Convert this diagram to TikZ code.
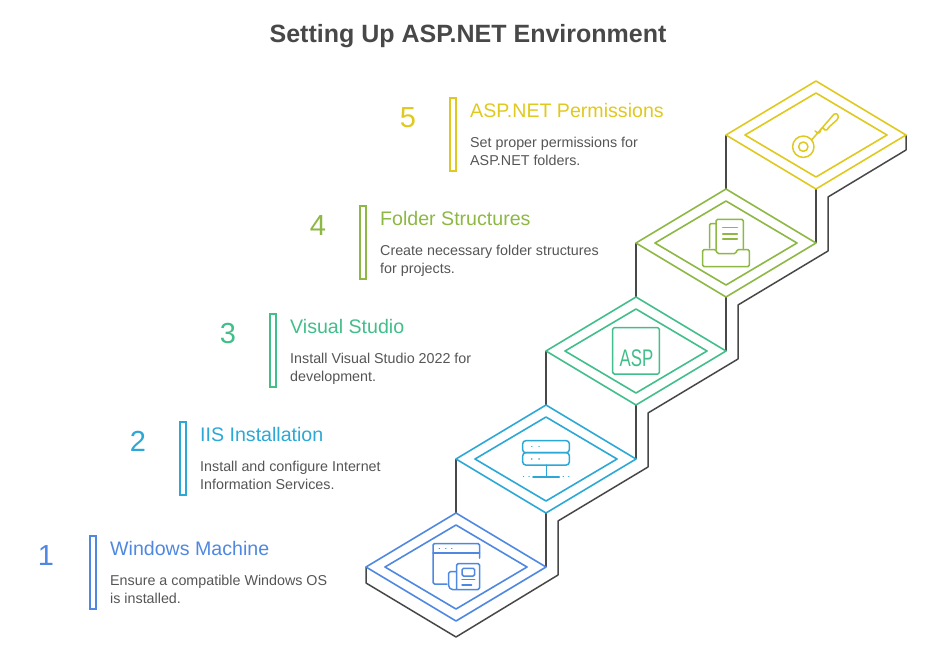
\documentclass[tikz,border=0pt]{standalone}
\usepackage{fontspec}
\setmainfont{Liberation Sans}
\definecolor{stepA}{HTML}{4F88E0}
\definecolor{stepB}{HTML}{2BA8D6}
\definecolor{stepC}{HTML}{41BE8A}
\definecolor{stepD}{HTML}{8CB843}
\definecolor{stepE}{HTML}{E0C91E}
\definecolor{stair}{HTML}{484848}
\definecolor{bodytext}{HTML}{555555}
\tikzset{
  stairline/.style={draw=stair, line width=1.5pt, line join=round},
  plate/.style={line width=1.6pt, line join=round},
  icon/.style={line width=1.5pt, line join=round, line cap=round, rounded corners=1.5pt},
  bar/.style={line width=1.8pt},
  titletext/.style={anchor=base, inner sep=0pt, font=\fontsize{25}{30}\selectfont\bfseries, text=stair},
  numtext/.style={anchor=base, inner sep=0pt, font=\fontsize{29}{34}\selectfont},
  headtext/.style={anchor=base west, inner sep=0pt, font=\fontsize{19.6}{24}\selectfont},
  bodynode/.style={anchor=north west, inner sep=0pt, align=left, text=bodytext, font=\fontsize{14.3}{18.2}\selectfont},
}
\begin{document}
\begin{tikzpicture}[x=1pt,y=-1pt]
\useasboundingbox (0,0) rectangle (936,654);

\node [titletext] (title) at (468,42) {Setting Up ASP.NET Environment};

% stairs
\draw [stairline] (366,567) -- (366,583) -- (456,637) -- (558,575) -- (558,521) -- (648,467) -- (648,413)
  -- (738,359) -- (738,305) -- (828,251) -- (828,197) -- (906,150) -- (906,135);
\draw [stairline] (456,459) -- (456,513);
\draw [stairline] (546,351) -- (546,405);
\draw [stairline] (636,243) -- (636,297);
\draw [stairline] (726,135) -- (726,189);
\draw [stairline] (546,513) -- (546,567);
\draw [stairline] (636,405) -- (636,459);
\draw [stairline] (726,297) -- (726,351);
\draw [stairline] (816,189) -- (816,243);

% plates
\draw [plate, stepA, fill=white] (456,513) -- (546,567) -- (456,621) -- (366,567) -- cycle;
\draw [plate, stepA] (456,525) -- (527,567) -- (456,609) -- (385,567) -- cycle;
\draw [plate, stepB, fill=white] (546,405) -- (636,459) -- (546,513) -- (456,459) -- cycle;
\draw [plate, stepB] (546,417) -- (617,459) -- (546,501) -- (475,459) -- cycle;
\draw [plate, stepC, fill=white] (636,297) -- (726,351) -- (636,405) -- (546,351) -- cycle;
\draw [plate, stepC] (636,309) -- (707,351) -- (636,393) -- (565,351) -- cycle;
\draw [plate, stepD, fill=white] (726,189) -- (816,243) -- (726,297) -- (636,243) -- cycle;
\draw [plate, stepD] (726,201) -- (797,243) -- (726,285) -- (655,243) -- cycle;
\draw [plate, stepE, fill=white] (816,81) -- (906,135) -- (816,189) -- (726,135) -- cycle;
\draw [plate, stepE] (816,93) -- (887,135) -- (816,177) -- (745,135) -- cycle;

% window icon
\draw [icon, stepA] (447,584) -- (433,584) -- (433,543.5) -- (479.5,543.5) -- (479.5,558);
\draw [icon, stepA] (433,553) -- (479.5,553);
\draw [icon, stepA] (439.3,548.3) -- (439.4,548.3);
\draw [icon, stepA] (445.7,548.3) -- (445.8,548.3);
\draw [icon, stepA] (451.7,548.3) -- (451.8,548.3);
\draw [icon, stepA] (456.7,589.5) -- (456.7,563.5) -- (479.5,563.5) -- (479.5,589.5) -- (451,589.5) -- (448.7,587) -- (448.7,571.7) -- (456.7,571.7);
\draw [icon, stepA] (462,568.3) rectangle (474.7,576);
\draw [icon, stepA] (462,579.5) -- (474.7,579.5);
\draw [icon, stepA] (462,585) -- (471.5,585);

% server icon
\draw [icon, stepB, rounded corners=3pt] (522.7,440.7) rectangle (569.3,452.7);
\draw [icon, stepB, rounded corners=3pt] (522.7,452.7) rectangle (569.3,465);
\draw [icon, stepB] (531.7,446.7) -- (531.8,446.7);
\draw [icon, stepB] (539,446.7) -- (539.1,446.7);
\draw [icon, stepB] (531.7,459) -- (531.8,459);
\draw [icon, stepB] (539,459) -- (539.1,459);
\draw [icon, stepB] (546.7,465) -- (546.7,476.5);
\draw [icon, stepB, line width=2pt] (533,476.5) -- (559,476.5);
\draw [icon, stepB] (523.5,476.5) -- (523.6,476.5);
\draw [icon, stepB] (529,476.5) -- (529.1,476.5);
\draw [icon, stepB] (563.3,476.5) -- (563.4,476.5);
\draw [icon, stepB] (568.7,476.5) -- (568.8,476.5);

% asp icon
\draw [icon, stepC] (612.7,327.7) rectangle (659.3,374);
\node [anchor=base, inner sep=0pt, text=stepC, font=\fontsize{24}{24}\selectfont, xscale=0.7] (asptext) at (636.5,366.7) {ASP};

% folder icon
\draw [icon, stepD] (702.7,249.5) -- (702.7,266.7) -- (749.3,266.7) -- (749.3,249.5) -- (737,249.5) -- (736,253.5) -- (717,253.5) -- (716,249.5) -- cycle;
\draw [icon, stepD] (716,249.5) -- (716,219.3) -- (743.3,219.3) -- (743.3,249.5);
\draw [icon, stepD] (709.5,248) -- (709.5,223.5) -- (716,223.5);
\draw [icon, stepD] (722.7,227.7) -- (737.3,227.7);
\draw [icon, stepD] (722.7,234) -- (737.3,234);
\draw [icon, stepD] (722.7,239) -- (737.3,239);

% key icon
\draw [icon, stepE] (803.3,146.7) circle (10.7);
\draw [icon, stepE] (803.3,146.7) circle (4.7);
\draw [icon, stepE] (812,139.5) -- (835,113) -- (838.5,115) -- (838,119) -- (829,127) -- (826,131) -- (822,127) -- (819,134) -- (815,131);

% text columns
\draw [bar, stepA] (90,536) rectangle (96,609);
\node [numtext, text=stepA] (numA) at (46,565) {1};
\node [headtext, text=stepA] (headA) at (110,555.7) {Windows Machine};
\node [bodynode] (bodyA) at (110,574.5) {Ensure a compatible Windows OS\\is installed.};

\draw [bar, stepB] (180,422) rectangle (186,495);
\node [numtext, text=stepB] (numB) at (138,451) {2};
\node [headtext, text=stepB] (headB) at (200,441.7) {IIS Installation};
\node [bodynode] (bodyB) at (200,460.5) {Install and configure Internet\\Information Services.};

\draw [bar, stepC] (270,314) rectangle (276,387);
\node [numtext, text=stepC] (numC) at (228,343) {3};
\node [headtext, text=stepC] (headC) at (290,333.7) {Visual Studio};
\node [bodynode] (bodyC) at (290,352.5) {Install Visual Studio 2022 for\\development.};

\draw [bar, stepD] (360,206) rectangle (366,279);
\node [numtext, text=stepD] (numD) at (318,235) {4};
\node [headtext, text=stepD] (headD) at (380,225.7) {Folder Structures};
\node [bodynode] (bodyD) at (380,244.5) {Create necessary folder structures\\for projects.};

\draw [bar, stepE] (450,98) rectangle (456,171);
\node [numtext, text=stepE] (numE) at (408,127) {5};
\node [headtext, text=stepE] (headE) at (470,117.7) {ASP.NET Permissions};
\node [bodynode] (bodyE) at (470,136.5) {Set proper permissions for\\ASP.NET folders.};

\end{tikzpicture}
\end{document}
